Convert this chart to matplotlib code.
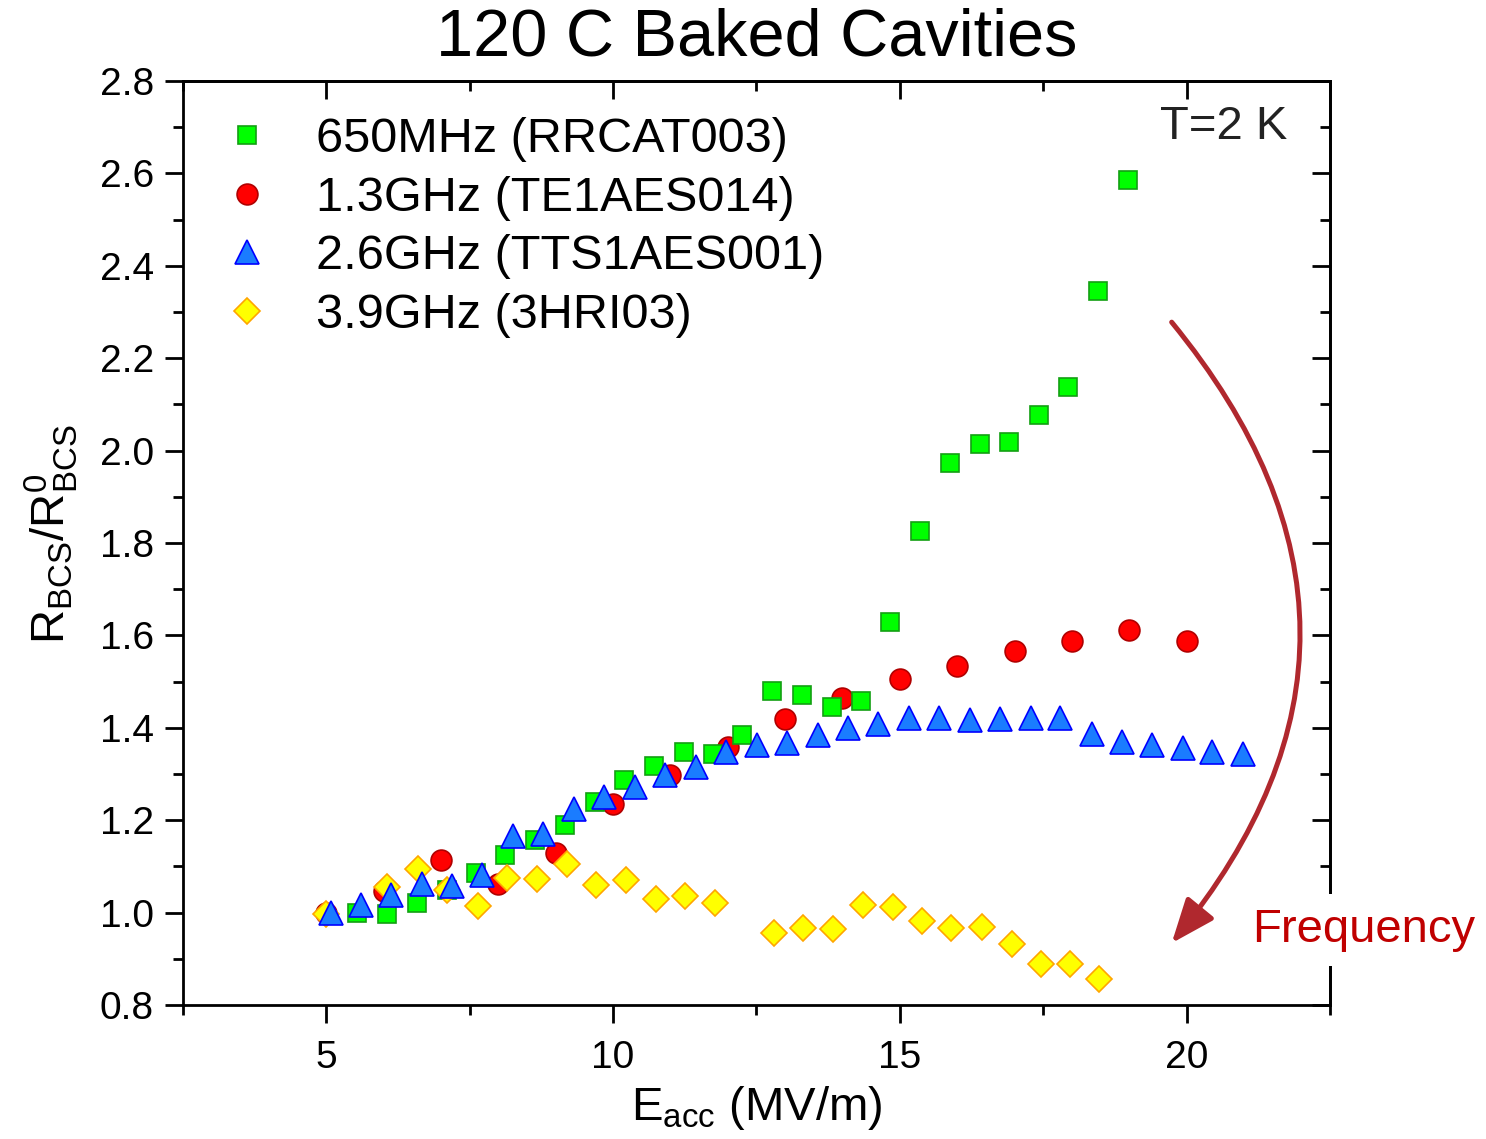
import matplotlib
matplotlib.use('Agg')
import matplotlib.pyplot as plt
from matplotlib.patches import FancyArrowPatch
from matplotlib.ticker import MultipleLocator

plt.rcParams['font.family'] = ['Liberation Sans', 'DejaVu Sans']
plt.rcParams['mathtext.fontset'] = 'custom'
plt.rcParams['mathtext.rm'] = 'Liberation Sans'
plt.rcParams['mathtext.it'] = 'Liberation Sans:italic'

# 650 MHz (RRCAT003)
e_650 = [5.54, 6.05, 6.58, 7.11, 7.61, 8.12, 8.64, 9.16, 9.69, 10.19, 10.71, 11.24, 11.74,
         12.25, 12.77, 13.29, 13.82, 14.32, 14.83, 15.36, 15.87, 16.39, 16.90, 17.42,
         17.94, 18.45, 18.97]
r_650 = [1.00, 0.997, 1.02, 1.05, 1.086, 1.125, 1.157, 1.19, 1.24, 1.287, 1.317, 1.348,
         1.343, 1.384, 1.48, 1.47, 1.445, 1.458, 1.629, 1.826, 1.973, 2.014, 2.019, 2.077,
         2.138, 2.345, 2.586]

# 1.3 GHz (TE1AES014)
e_13 = [5.0, 6.0, 7.0, 8.0, 9.0, 10.0, 11.0, 12.0, 13.0, 14.0, 15.0, 16.0, 17.0, 18.0,
        19.0, 20.0]
r_13 = [1.0, 1.046, 1.114, 1.063, 1.129, 1.235, 1.298, 1.358, 1.419, 1.465, 1.506, 1.534,
        1.566, 1.588, 1.612, 1.588]

# 2.6 GHz (TTS1AES001)
e_26 = [5.09, 5.61, 6.13, 6.66, 7.20, 7.72, 8.26, 8.78, 9.32, 9.84, 10.38, 10.91, 11.45,
        11.97, 12.51, 13.03, 13.57, 14.09, 14.62, 15.16, 15.68, 16.22, 16.74, 17.28, 17.80,
        18.35, 18.87, 19.39, 19.93, 20.45, 20.99]
r_26 = [1.0, 1.016, 1.038, 1.062, 1.058, 1.081, 1.166, 1.17, 1.224, 1.25, 1.272, 1.298,
        1.315, 1.348, 1.363, 1.367, 1.384, 1.40, 1.408, 1.421, 1.421, 1.417, 1.419, 1.421,
        1.421, 1.387, 1.369, 1.363, 1.356, 1.348, 1.343]

# 3.9 GHz (3HRI03)
e_39 = [5.0, 6.06, 6.60, 7.11, 7.65, 8.15, 8.68, 9.20, 9.70, 10.23, 10.75, 11.25, 11.78,
        12.80, 13.31, 13.83, 14.36, 14.88, 15.38, 15.90, 16.43, 16.95, 17.46, 17.96, 18.48]
r_39 = [0.997, 1.055, 1.094, 1.049, 1.014, 1.075, 1.073, 1.105, 1.06, 1.071, 1.029, 1.036,
        1.021, 0.956, 0.967, 0.965, 1.016, 1.012, 0.982, 0.967, 0.969, 0.932, 0.889, 0.889,
        0.856]

fig = plt.figure(figsize=(14.86, 11.39), dpi=100)
ax = fig.add_axes([0.1231, 0.1176, 0.7719, 0.8113])

ax.plot(e_650, r_650, ls='none', marker='s', ms=13.5, mfc='#00FF00', mec='#13A013',
        mew=1.2, zorder=3, label='650MHz (RRCAT003)')
ax.plot(e_13, r_13, ls='none', marker='o', ms=15, mfc='#FF0000', mec='#B00000',
        mew=1.2, zorder=2, label='1.3GHz (TE1AES014)')
ax.plot(e_26, r_26, ls='none', marker='^', ms=17, mfc='#1A7CFF', mec='#0000FF',
        mew=1.2, zorder=5, label='2.6GHz (TTS1AES001)')
ax.plot(e_39, r_39, ls='none', marker='D', ms=13.5, mfc='#FFFF00', mec='#FFA500',
        mew=1.2, zorder=4, label='3.9GHz (3HRI03)')

ax.set_xlim(2.5, 22.5)
ax.set_ylim(0.8, 2.8)
ax.xaxis.set_major_locator(MultipleLocator(5))
ax.xaxis.set_minor_locator(MultipleLocator(2.5))
ax.yaxis.set_major_locator(MultipleLocator(0.2))
ax.yaxis.set_minor_locator(MultipleLocator(0.1))
ax.yaxis.set_major_formatter(lambda v, p: f'{v:.1f}')

for s in ax.spines.values():
    s.set_linewidth(2)
ax.tick_params(which='both', direction='out', width=2, labelsize=28, pad=8)
ax.tick_params(axis='x', which='both', pad=12)
ax.tick_params(which='major', length=13)
ax.tick_params(which='minor', length=7)

# inward ticks on top and right
top = ax.secondary_xaxis('top')
top.xaxis.set_major_locator(MultipleLocator(5))
top.xaxis.set_minor_locator(MultipleLocator(2.5))
top.tick_params(which='both', direction='in', width=2, labeltop=False)
top.tick_params(which='major', length=13)
top.tick_params(which='minor', length=7)
top.spines['top'].set_linewidth(2)
right = ax.secondary_yaxis('right')
right.yaxis.set_major_locator(MultipleLocator(0.2))
right.yaxis.set_minor_locator(MultipleLocator(0.1))
right.tick_params(which='both', direction='in', width=2, labelright=False)
right.tick_params(which='major', length=13)
right.tick_params(which='minor', length=7)
right.spines['right'].set_linewidth(2)

ax.set_xlabel(r'$\mathrm{E_{acc}}$ (MV/m)', fontsize=34)
ax.xaxis.set_label_coords(0.5, -0.085)
ax.set_ylabel(r'$\mathrm{R_{BCS}/R^{0}_{BCS}}$', fontsize=34)
ax.yaxis.set_label_coords(-0.09, 0.51)

fig.text(0.509, 0.966, '120 C Baked Cavities', fontsize=48, ha='center', va='center')

ax.legend(loc='upper left', bbox_to_anchor=(0.027, 0.961), frameon=False, fontsize=35,
          handlelength=1.35, handletextpad=0.75, labelspacing=0.28, borderpad=0,
          borderaxespad=0, numpoints=1)

ax.text(0.907, 0.95, 'T=2 K', transform=ax.transAxes, fontsize=34, ha='center',
        va='center', color='#222222')

arrow = FancyArrowPatch((0.862, 0.739), (0.862, 0.067), transform=ax.transAxes,
                        connectionstyle='arc3,rad=-0.41',
                        arrowstyle='-|>,head_length=0.6,head_width=0.24',
                        mutation_scale=45, color='#B0282E', lw=3.6,
                        shrinkA=0, shrinkB=0, zorder=6, clip_on=False)
ax.add_patch(arrow)

fig.text(0.918, 0.1835, 'Frequency', fontsize=34, color='#C00000', ha='center',
         va='center', bbox=dict(boxstyle='square,pad=0.3', fc='white', ec='none'))

fig.savefig('out.png', dpi=100)
